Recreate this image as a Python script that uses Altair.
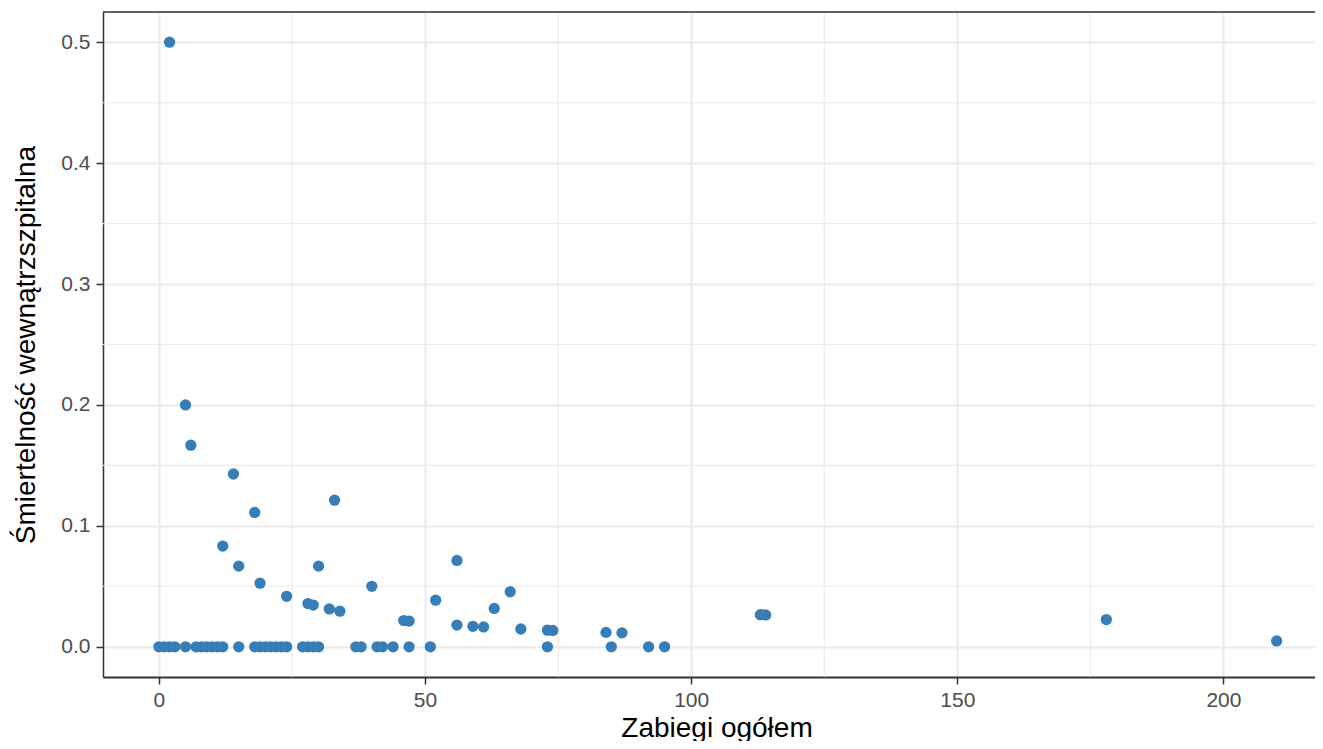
import altair as alt
import pandas as pd

# Hospitals with at least one in-hospital death: total procedures and mortality
nz_procedures = [2, 5, 6, 12, 14, 15, 18, 19, 24, 28, 29, 30, 32, 33, 34, 40, 46, 47,
                 52, 56, 56, 59, 61, 63, 66, 68, 73, 74, 84, 87, 113, 114, 178, 210]
nz_mortality = [0.5, 0.2, 0.1667, 0.0833, 0.1429, 0.0667, 0.1111, 0.0526, 0.0417,
                0.0357, 0.0345, 0.0667, 0.0313, 0.1212, 0.0294, 0.05, 0.0217, 0.0213,
                0.0385, 0.0714, 0.0179, 0.0169, 0.0164, 0.0317, 0.0455, 0.0147, 0.0137,
                0.0135, 0.0119, 0.0115, 0.0265, 0.0263, 0.0225, 0.0048]

# Hospitals with zero mortality: total procedures
zero_procedures = [0, 1, 2, 3, 5, 7, 8, 9, 10, 11, 12, 15, 18, 19, 20, 21, 22, 23, 24,
                   27, 28, 29, 30, 37, 38, 41, 42, 44, 47, 51, 73, 85, 92, 95]

x_ticks = [0, 50, 100, 150, 200]
y_ticks = [0.0, 0.1, 0.2, 0.3, 0.4, 0.5]
x_minor = [25, 75, 125, 175]
y_minor = [0.05, 0.15, 0.25, 0.35, 0.45]

x_title = "Zabiegi ogółem"
y_title = "Śmiertelność wewnątrzszpitalna"

df = pd.DataFrame({
    "zabiegi": nz_procedures + zero_procedures,
    "smiertelnosc": nz_mortality + [0.0] * len(zero_procedures),
})

W, H = 1212, 665
FONT = "Liberation Sans"

xscale = alt.Scale(domain=[-10.5, 217.2], nice=False, zero=False)
yscale = alt.Scale(domain=[-0.025, 0.525], nice=False, zero=False)

xaxis = alt.Axis(values=x_ticks, format="d", grid=True, gridColor="#EBEBEB", gridWidth=2.1,
                 domainColor="#333333", domainWidth=2, tickColor="#333333", tickSize=7,
                 tickWidth=1.5, labelFontSize=21, labelColor="#4D4D4D", labelPadding=5,
                 labelFont=FONT, labelFlush=False, labelOverlap=False,
                 titleFont=FONT, titleFontSize=28, titleFontWeight="normal", titleColor="#000000",
                 titleX=613.5, titleY=59, titleBaseline="alphabetic", titleAlign="center")
yaxis = alt.Axis(values=y_ticks, format=".1f", grid=True, gridColor="#EBEBEB", gridWidth=2.1,
                 domainColor="#333333", domainWidth=1.5, tickColor="#333333", tickSize=7,
                 tickWidth=1.5, labelFontSize=21, labelColor="#4D4D4D", labelPadding=6,
                 labelFont=FONT, labelFlush=False, labelOverlap=False,
                 titleFont=FONT, titleFontSize=28, titleFontWeight="normal", titleColor="#000000",
                 titleX=-69, titleY=332.5, titleAngle=270, titleBaseline="alphabetic",
                 titleAlign="center")

minor_x = alt.Chart(pd.DataFrame({"xm": x_minor})).mark_rule(
    color="#EBEBEB", strokeWidth=1.1
).encode(x=alt.X("xm:Q", scale=xscale, axis=xaxis, title=x_title))

minor_y = alt.Chart(pd.DataFrame({"ym": y_minor})).mark_rule(
    color="#EBEBEB", strokeWidth=1.1
).encode(y=alt.Y("ym:Q", scale=yscale, axis=yaxis, title=y_title))

points = alt.Chart(df).mark_circle(size=127, opacity=1, color="#377EB8").encode(
    x=alt.X("zabiegi:Q", scale=xscale, axis=xaxis, title=x_title),
    y=alt.Y("smiertelnosc:Q", scale=yscale, axis=yaxis, title=y_title),
)

top_border = alt.Chart(pd.DataFrame({"a": [0]})).mark_rule(
    color="#333333", strokeWidth=1.5
).encode(x=alt.value(0), x2=alt.value(W), y=alt.value(0))

chart = alt.layer(minor_x, minor_y, points, top_border).properties(
    width=W, height=H,
    autosize=alt.AutoSizeParams(type="none"),
    padding={"left": 95, "top": 4, "right": 0, "bottom": 64},
).configure_view(stroke=None).configure(background="white")

chart.save("out.html", embed_options={"renderer": "svg", "actions": False})
